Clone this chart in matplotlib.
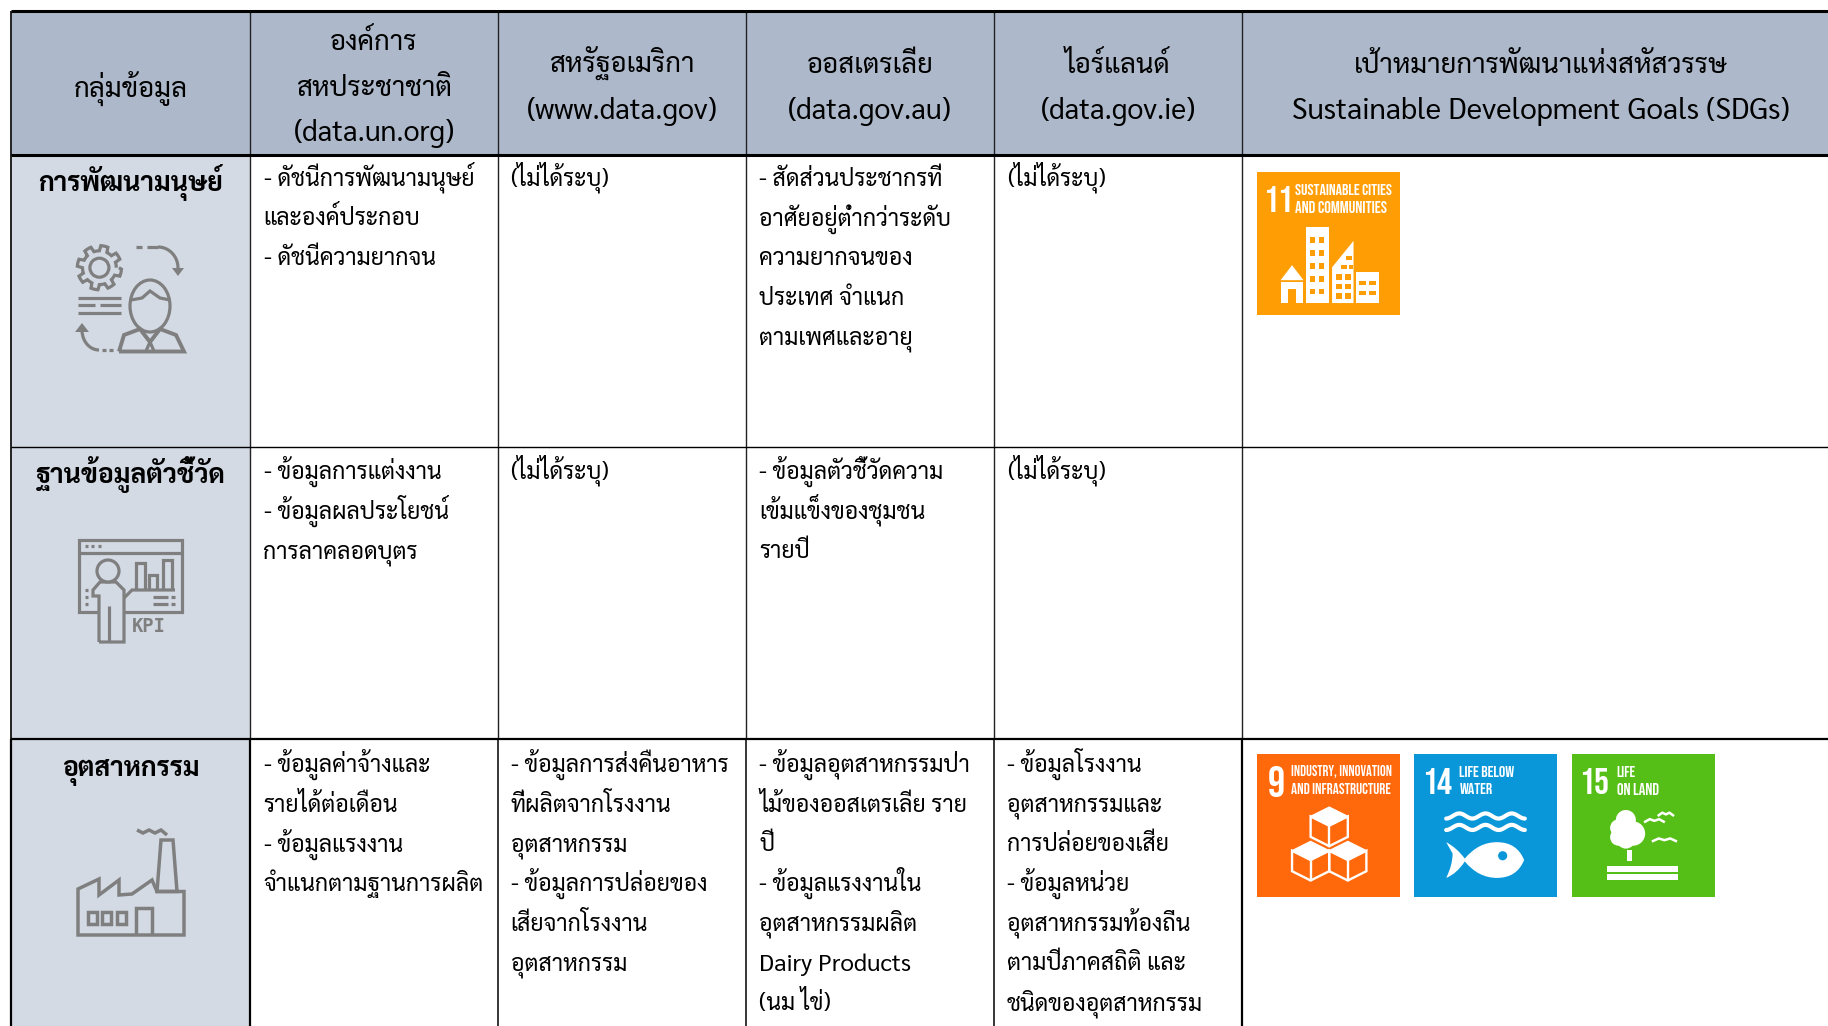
import matplotlib
matplotlib.use('Agg')
import matplotlib.pyplot as plt
from matplotlib.patches import Rectangle, Polygon, Circle, Ellipse
from matplotlib.path import Path
from matplotlib.patches import PathPatch
from matplotlib import font_manager as fm
import numpy as np

# ---------- content ----------
header_lines = [
    ["กลุ่มข้อมูล"],
    ["องค์การ", "สหประชาชาติ", "(data.un.org)"],
    ["สหรัฐอเมริกา", "(www.data.gov)"],
    ["ออสเตรเลีย", "(data.gov.au)"],
    ["ไอร์แลนด์", "(data.gov.ie)"],
    ["เป้าหมายการพัฒนาแห่งสหัสวรรษ", "Sustainable Development Goals (SDGs)"],
]
row_labels = ["การพัฒนามนุษย์", "ฐานข้อมูลตัวชี้วัด", "อุตสาหกรรม"]
un_cells = [
    ["- ดัชนีการพัฒนามนุษย์", "และองค์ประกอบ", "- ดัชนีความยากจน"],
    ["- ข้อมูลการแต่งงาน", "- ข้อมูลผลประโยชน์", "การลาคลอดบุตร"],
    ["- ข้อมูลค่าจ้างและ", "รายได้ต่อเดือน", "- ข้อมูลแรงงาน", "จำแนกตามฐานการผลิต"],
]
us_cells = [
    ["(ไม่ได้ระบุ)"],
    ["(ไม่ได้ระบุ)"],
    ["- ข้อมูลการส่งคืนอาหาร", "ที่ผลิตจากโรงงาน", "อุตสาหกรรม",
     "- ข้อมูลการปล่อยของ", "เสียจากโรงงาน", "อุตสาหกรรม"],
]
au_cells = [
    ["- สัดส่วนประชากรที่", "อาศัยอยู่ต่ำกว่าระดับ", "ความยากจนของ", "ประเทศ จำแนก", "ตามเพศและอายุ"],
    ["- ข้อมูลตัวชี้วัดความ", "เข้มแข็งของชุมชน", "รายปี"],
    ["- ข้อมูลอุตสาหกรรมป่า", "ไม้ของออสเตรเลีย ราย", "ปี", "- ข้อมูลแรงงานใน",
     "อุตสาหกรรมผลิต", "Dairy Products", "(นม ไข่)"],
]
ie_cells = [
    ["(ไม่ได้ระบุ)"],
    ["(ไม่ได้ระบุ)"],
    ["- ข้อมูลโรงงาน", "อุตสาหกรรมและ", "การปล่อยของเสีย", "- ข้อมูลหน่วย",
     "อุตสาหกรรมท้องถิ่น", "ตามปีภาคสถิติ และ", "ชนิดของอุตสาหกรรม"],
]
sdg_tiles = [
    (0, 0, "11", "SUSTAINABLE CITIES", "AND COMMUNITIES", "#FF9D05"),
    (2, 0, "9", "INDUSTRY, INNOVATION", "AND INFRASTRUCTURE", "#FF690B"),
    (2, 1, "14", "LIFE BELOW", "WATER", "#0A97D9"),
    (2, 2, "15", "LIFE", "ON LAND", "#56BF17"),
]

# ---------- layout ----------
col_x = [11, 250, 498, 746, 994, 1242, 1828]
row_y = [11, 155, 446.5, 739, 1026]
HEAD_BG, LABEL_BG, GRAY = "#ADB9CA", "#D3DAE4", "#7F7F7F"
THAI = ["Sarabun", "DejaVu Sans"]
names = {f.name for f in fm.fontManager.ttflist}
NARROW = [n for n in ["Bebas Neue", "Oswald", "Pathway Gothic One", "Fjalla One", "Barlow Condensed", "Saira Condensed",
                      "Roboto Condensed", "Archivo Narrow", "Liberation Sans Narrow", "Roboto"] if n in names][:1]

fig = plt.figure(figsize=(18.28, 10.26), dpi=100)
ax = fig.add_axes([0, 0, 1, 1])
ax.set_xlim(0, 1828)
ax.set_ylim(1026, 0)
ax.axis("off")
renderer = fig.canvas.get_renderer()

ax.add_patch(Rectangle((col_x[0], row_y[0]), col_x[-1]-col_x[0], row_y[1]-row_y[0], fc=HEAD_BG, ec="none"))
ax.add_patch(Rectangle((col_x[0], row_y[1]), col_x[1]-col_x[0], row_y[-1]-row_y[1], fc=LABEL_BG, ec="none"))

for i, x in enumerate(col_x[:-1]):
    ax.plot([x, x], [row_y[0], row_y[3]], color="#222222", lw=1.0 if i else 1.4, zorder=3, solid_capstyle="butt")
    ax.plot([x, x], [row_y[3], row_y[4]], color="black", lw=1.6 if i in (0, 1, 5) else 1.1, zorder=3, solid_capstyle="butt")
for y, lw in zip(row_y[:4], [2.2, 2.2, 1.0, 1.6]):
    ax.plot([col_x[0], col_x[-1]], [y, y], color="black", lw=lw, zorder=3, solid_capstyle="butt")

FS_BODY = 16.6
def head_size(s):
    if s.isascii():
        return 21.3 if "Sustainable" in s else 20.6
    return 19.8

centers = [(col_x[i]+col_x[i+1])/2 for i in range(6)]
head_centers = centers[:5]+[centers[5]-287+294-1]
head_ys = {1: [96.5], 2: [73, 118.5], 3: [50, 96.5, 141.5]}
for cx, lines in zip(head_centers, header_lines):
    for y, s in zip(head_ys[len(lines)], lines):
        ax.text(cx, y, s, ha="center", va="baseline", fontsize=head_size(s), family=THAI, color="black", zorder=4)

label_ys = [190.7, 483.3, 776]
for y, s in zip(label_ys, row_labels):
    ax.text(centers[0], y, s, ha="center", va="baseline", fontsize=19.1, family=THAI, fontweight="bold", zorder=4)

first_line = [185.7, 478.6, 772]
LINE = 39.7
text_x = [263.5, 510.6, 759, 1007]
for x, col in zip(text_x, [un_cells, us_cells, au_cells, ie_cells]):
    for y0, cell in zip(first_line, col):
        for k, s in enumerate(cell):
            ax.text(x, y0+k*LINE, s, ha="left", va="baseline", fontsize=17.4 if s.isascii() else FS_BODY, family=THAI, zorder=4)

# ---------- SDG tiles ----------
TS = 143
tile_x = [1257, 1414, 1571.5]
tile_y = {0: 171.5, 2: 753.5}
tile_style = {  # number centre x, title left, widths of both title lines (fractions of a tile)
    "11": (.146, .268, .687, .654),
    "9": (.138, .236, .708, .708),
    "14": (.163, .317, .394, .233),
    "15": (.155, .317, .137, .300),
}

def fit_text(x, y, s, width_px):
    t = ax.text(x, y, s, ha="left", va="center", color="white", family=NARROW, fontweight="bold", fontsize=10, zorder=5)
    w = t.get_window_extent(renderer).width
    t.set_fontsize(10*width_px/w)
    return t

def draw_tile(x0, y0, num, l1, l2, color):
    ax.add_patch(Rectangle((x0, y0), TS, TS, fc=color, ec="none", zorder=4))
    nx, tx, w1, w2 = tile_style[num]
    t = ax.text(x0+nx*TS, y0+0.195*TS, num, ha="center", va="center", color="white", family=NARROW,
                fontweight="bold", fontsize=20, zorder=5)
    h = t.get_window_extent(renderer).height
    fs = min(20*31/h, 20*(0.21 if len(num) == 2 else 0.12)*TS/t.get_window_extent(renderer).width)
    t.set_fontsize(fs)
    fit_text(x0+tx*TS, y0+0.124*TS, l1, w1*TS)
    fit_text(x0+tx*TS, y0+0.246*TS, l2, w2*TS)

def frac(x0, y0, pts):
    return [(x0+a*TS, y0+b*TS) for a, b in pts]

def city(x0, y0, c):
    def box(a, b, w, h, fc="white"):
        ax.add_patch(Rectangle((x0+a*TS, y0+b*TS), w*TS, h*TS, fc=fc, ec="none", zorder=5))
    ax.add_patch(Polygon(frac(x0, y0, [(.165, .76), (.245, .655), (.325, .76)]), fc="white", ec="none", zorder=5))
    box(.165, .775, .16, .145)
    box(.215, .82, .06, .10, c)
    box(.34, .39, .16, .53)
    for r in range(5):
        for q in range(2):
            box(.37+q*.065, .46+r*.09, .035, .04, c)
    ax.add_patch(Polygon(frac(x0, y0, [(.525, .92), (.525, .67), (.675, .485), (.675, .92)]), fc="white", ec="none", zorder=5))
    box(.625, .59, .04, .03, c)
    box(.585, .655, .045, .03, c); box(.64, .655, .03, .03, c)
    for r in range(3):
        for q in range(2):
            box(.55+q*.065, .72+r*.065, .045, .04, c)
    box(.69, .70, .16, .22)
    box(.71, .765, .05, .03, c); box(.78, .765, .05, .03, c)
    box(.71, .835, .05, .03, c); box(.78, .835, .05, .03, c)

def cubes(x0, y0):
    def cube(cx, cy, s=.13):
        top = [(cx, cy-s), (cx+s, cy-s*.5), (cx, cy), (cx-s, cy-s*.5)]
        ax.add_patch(Polygon(frac(x0, y0, top), fc="white", ec="white", lw=1, zorder=5))
        hexa = [(cx-s, cy-s*.5), (cx, cy), (cx+s, cy-s*.5), (cx+s, cy+s*.6), (cx, cy+s*1.1), (cx-s, cy+s*.6)]
        ax.add_patch(Polygon(frac(x0, y0, hexa), fc="none", ec="white", lw=1.7, zorder=5))
        ax.plot(*zip(*frac(x0, y0, [(cx, cy), (cx, cy+s*1.1)])), color="white", lw=1.7, zorder=5)
    cube(.505, .505); cube(.375, .745); cube(.635, .745)

def fish(x0, y0):
    for yy in (.437, .517):
        xs = np.linspace(.225, .775, 60)
        ys = yy+.018*np.cos((xs-.225)/.55*2*np.pi*3)
        ax.plot(x0+xs*TS, y0+ys*TS, color="white", lw=3, zorder=5, solid_capstyle="round")
    verts = [(.225, .62), (.30, .66), (.355, .735), (.45, .62), (.58, .62), (.72, .62), (.77, .745),
             (.72, .87), (.58, .87), (.45, .87), (.355, .755), (.30, .84), (.225, .87), (.27, .78), (.27, .70), (.225, .62)]
    codes = [Path.MOVETO]+[Path.CURVE3]*14+[Path.LINETO]
    ax.add_patch(PathPatch(Path(frac(x0, y0, verts), codes), fc="white", ec="none", zorder=5))
    ax.add_patch(Circle((x0+.62*TS, y0+.715*TS), .032*TS, fc="#0A97D9", ec="none", zorder=6))

def tree(x0, y0):
    for a, b, r in [(.38, .465, .07), (.33, .52, .06), (.43, .56, .085), (.33, .585, .06), (.38, .60, .065)]:
        ax.add_patch(Circle((x0+a*TS, y0+b*TS), r*TS, fc="white", ec="none", zorder=5))
    ax.add_patch(Rectangle((x0+.385*TS, y0+.675*TS), .035*TS, .08*TS, fc="white", ec="none", zorder=5))
    ax.add_patch(Rectangle((x0+.25*TS, y0+.79*TS), .495*TS, .04*TS, fc="white", ec="none", zorder=5))
    ax.add_patch(Rectangle((x0+.25*TS, y0+.845*TS), .495*TS, .04*TS, fc="white", ec="none", zorder=5))
    for a, b, w in [(.58, .465, .065), (.66, .42, .05), (.65, .60, .08)]:
        xs = np.array([a-w, a-w/2, a, a+w/2, a+w])
        ys = np.array([b+.012, b-.006, b+.006, b-.006, b+.012])
        ax.plot(x0+xs*TS, y0+ys*TS, color="white", lw=1.8, zorder=5)

for r, c, num, l1, l2, color in sdg_tiles:
    x0, y0 = tile_x[c], tile_y[r]
    draw_tile(x0, y0, num, l1, l2, color)
    if num == "11":
        city(x0, y0, color)
    elif num == "9":
        cubes(x0, y0)
    elif num == "14":
        fish(x0, y0)
    else:
        tree(x0, y0)

# ---------- grey pictograms ----------
LW = 2.3
def gl(xs, ys, lw=LW):
    ax.plot(xs, ys, color=GRAY, lw=lw, zorder=4, solid_capstyle="butt", solid_joinstyle="miter")

# person with gear
th = np.linspace(0, 2*np.pi, 97)
rad = 19.5+2.6*np.sign(np.sin(8*th))
gl(99.4+rad*np.cos(th), 267.7+rad*np.sin(th))
ax.add_patch(Circle((99.4, 267.7), 9.5, fc="none", ec=GRAY, lw=LW, zorder=4))
for y, (a, b) in [(298, (77.5, 121)), (305, (77.5, 95)), (305, (100, 121)), (313, (77.5, 121))]:
    gl([a, b], [y, y])
ax.add_patch(Ellipse((150, 306), 40, 52, fc=LABEL_BG, ec=GRAY, lw=LW, zorder=4))
gl([131, 142, 150, 160, 170], [300, 298, 291, 298, 300])
gl([119, 124, 140, 150, 160, 176, 184, 119], [351.5, 335, 329, 342, 329, 335, 351.5, 351.5], lw=2.8)
gl([140, 150, 146], [329, 342, 351]); gl([160, 150, 154], [329, 342, 351])
gl([136, 142], [247, 247]); gl([147, 158], [247, 247])
xs = 158+20*np.sin(np.linspace(0, np.pi/2, 20)); ys = 247+21*(1-np.cos(np.linspace(0, np.pi/2, 20)))
gl(xs, ys)
ax.add_patch(Polygon([(172, 268), (184, 268), (178, 276)], fc=GRAY, ec="none", zorder=4))
xs = 82+17*(1-np.cos(np.linspace(0, np.pi/2, 20))); ys = 330+20*np.sin(np.linspace(0, np.pi/2, 20))
gl(xs, ys)
ax.add_patch(Polygon([(75, 332), (89, 332), (82, 323)], fc=GRAY, ec="none", zorder=4))
gl([102, 106], [350, 350]); gl([109, 113], [350, 350])

# KPI board
ax.add_patch(Rectangle((79, 540), 103, 72, fc="none", ec=GRAY, lw=LW, zorder=4))
gl([79, 182], [552.7, 552.7])
for xd in (85, 91, 98):
    gl([xd, xd+3], [546, 546])
for a, b, h in [(136, 145, 63), (149, 157, 75), (163, 172, 60)]:
    gl([a, a, b, b], [590, 500+h, 500+h, 590])
gl([124, 132, 175], [598, 590, 590])
ax.add_patch(PathPatch(Path([(99, 642), (99, 596), (93, 596), (93, 590), (100, 582), (116, 582), (124, 590), (124, 642), (99, 642)],
                            [Path.MOVETO]+[Path.LINETO]*8), fc=LABEL_BG, ec=GRAY, lw=LW, zorder=4))
ax.add_patch(Circle((108, 571), 11, fc=LABEL_BG, ec=GRAY, lw=LW, zorder=5))
gl([108.5, 108.5], [606, 642])
for yy in (590, 597, 604):
    gl([85, 88], [yy, yy])
gl([153, 168], [597, 597]); gl([153, 168], [604, 604]); gl([171, 175], [597, 597]); gl([171, 175], [604, 604])
ax.text(149, 627, "KPI", color=GRAY, family=["DejaVu Sans Mono"], fontweight="bold", fontsize=13.5, ha="center", va="center", zorder=5)

# factory
ax.add_patch(Polygon([(78, 935), (78, 889), (99, 879), (99, 895), (119, 880), (119, 895), (132, 894), (152, 880), (157, 891.5),
                      (184, 891.5), (184, 935)], fc="none", ec=GRAY, lw=2.5, zorder=4))
ax.add_patch(Polygon([(157, 891.5), (161, 840), (173, 840), (177, 891.5)], fc="none", ec=GRAY, lw=2.5, zorder=4))
xs = [137, 143, 149, 155, 161, 167]
gl(xs, [830, 833, 830, 833, 830, 835], lw=2.5)
for a in (88, 102, 117):
    ax.add_patch(Rectangle((a, 912), 9, 12, fc="none", ec=GRAY, lw=2.5, zorder=4))
gl([136, 136, 152, 152], [935, 908, 908, 935], lw=2.5)

fig.savefig("out.png", dpi=100)
